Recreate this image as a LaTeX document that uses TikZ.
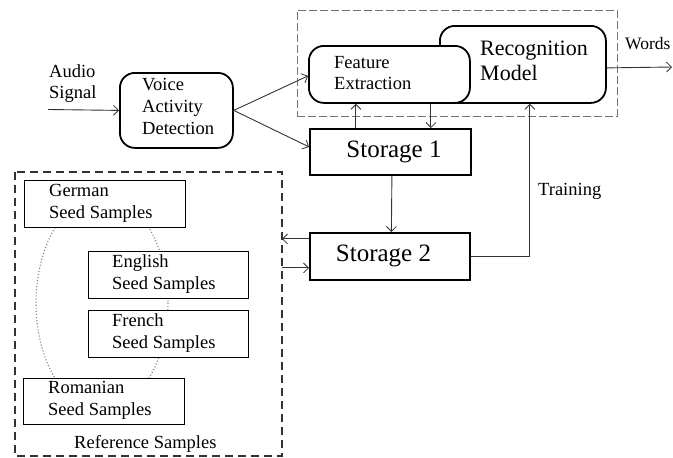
\documentclass[tikz,border=0pt]{standalone}
\usepackage{fontspec}
\setmainfont{Liberation Serif}
\usetikzlibrary{arrows.meta}
\begin{document}
\begin{tikzpicture}[x=1pt,y=-1pt,
  txt/.style={inner sep=0pt,anchor=base west,font=\fontsize{18.5}{22}\selectfont},
  rbox/.style={draw,line width=1.8pt,rounded corners=15pt,fill=white,inner sep=0pt,anchor=north west},
  sbox/.style={draw,line width=1.8pt,fill=white,inner sep=0pt,anchor=north west},
  seedbox/.style={draw,line width=1.4pt,fill=white,inner sep=0pt,anchor=north west},
  conn/.style={draw=black!80,line width=0.9pt},
  arr/.style={conn,-{Straight Barb[length=5pt,width=10pt,line width=0.8pt]}},
  ]
\useasboundingbox (0,0) rectangle (673,458);
% top dashed group
\node[draw=black!55,dash pattern=on 8pt off 3pt,line width=0.9pt,inner sep=0pt,anchor=north west,minimum width=320,minimum height=106] (grp) at (297,10) {};
% reference samples group
\draw[black!80,line width=1.6pt,dash pattern=on 8pt off 5pt] (15,172) rectangle (282,456);
\coordinate (refE) at (282,314);
% dotted ellipse
\draw[black!50,line width=1.1pt,dotted] (102,303) ellipse [x radius=66,y radius=107];
% nodes
\node[rbox,minimum width=113,minimum height=75] (vad) at (119,72) {};
\node[rbox,minimum width=166,minimum height=77] (rm) at (439,25) {};
\node[rbox,minimum width=161,minimum height=57] (fe) at (308,45) {};
\node[sbox,minimum width=161,minimum height=46] (s1) at (309,128) {};
\node[sbox,minimum width=160,minimum height=47] (s2) at (309,232) {};
\node[seedbox,minimum width=161,minimum height=47] (ger) at (24,180) {};
\node[seedbox,minimum width=160,minimum height=47] (eng) at (88,251) {};
\node[seedbox,minimum width=160,minimum height=47] (fre) at (88,310) {};
\node[seedbox,minimum width=161,minimum height=46] (rom) at (23,378) {};
% texts
\node[txt] (t1) at (49,77) {Audio};
\node[txt] (t2) at (49,98) {Signal};
\node[txt] (t3) at (142,90.5) {Voice};
\node[txt] (t4) at (142,112) {Activity};
\node[txt] (t5) at (142,134.3) {Detection};
\node[txt] (t6) at (334,68.3) {Feature};
\node[txt] (t7) at (334,89.3) {Extraction};
\node[txt,font=\fontsize{22}{26}\selectfont] (t8) at (480,55) {Recognition};
\node[txt,font=\fontsize{22}{26}\selectfont] (t9) at (480,80.5) {Model};
\node[txt,font=\fontsize{17.5}{21}\selectfont] (t10) at (625,49.5) {Words};
\node[txt,anchor=base,font=\fontsize{25}{30}\selectfont] (t11) at (394,157) {Storage 1};
\node[txt,anchor=base,font=\fontsize{25}{30}\selectfont] (t12) at (383.5,261) {Storage 2};
\node[txt] (t13) at (538,195) {Training};
\node[txt] (t14) at (49,196) {German};
\node[txt] (t15) at (49,218.5) {Seed Samples};
\node[txt] (t16) at (112,267.3) {English};
\node[txt] (t17) at (112,289.3) {Seed Samples};
\node[txt] (t18) at (112,326) {French};
\node[txt] (t19) at (112,348.3) {Seed Samples};
\node[txt] (t20) at (48,393.3) {Romanian};
\node[txt] (t21) at (48,415) {Seed Samples};
\node[txt] (t22) at (74,448.3) {Reference Samples};
% connectors
\coordinate (ain) at (48,109.5);
\coordinate (wout) at (672,67);
\draw[arr] (ain) -- (vad.west);
\draw[arr] (vad.east) -- ([yshift=-1.5pt]fe.west);
\draw[arr] (vad.east) -- ([yshift=5pt]s1.west);
\draw[arr] ([xshift=-34.5pt]s1.north) -- ([xshift=-34.5pt]s1.north |- fe.south);
\draw[arr] ([xshift=40.5pt]s1.north |- fe.south) -- ([xshift=40.5pt]s1.north);
\draw[arr] ([xshift=1.5pt]s1.south) -- ([xshift=1.5pt]s2.north);
\draw[arr] (s2.east) -| ([xshift=7pt]rm.south);
\draw[arr] ([yshift=-3.5pt]rm.east) -- (wout);
\draw[arr] ([yshift=17.5pt]s2.west) -- ([yshift=17.5pt]s2.west -| refE);
\draw[arr] ([yshift=-11.5pt]s2.west -| refE) -- ([yshift=-11.5pt]s2.west);
\end{tikzpicture}
\end{document}
